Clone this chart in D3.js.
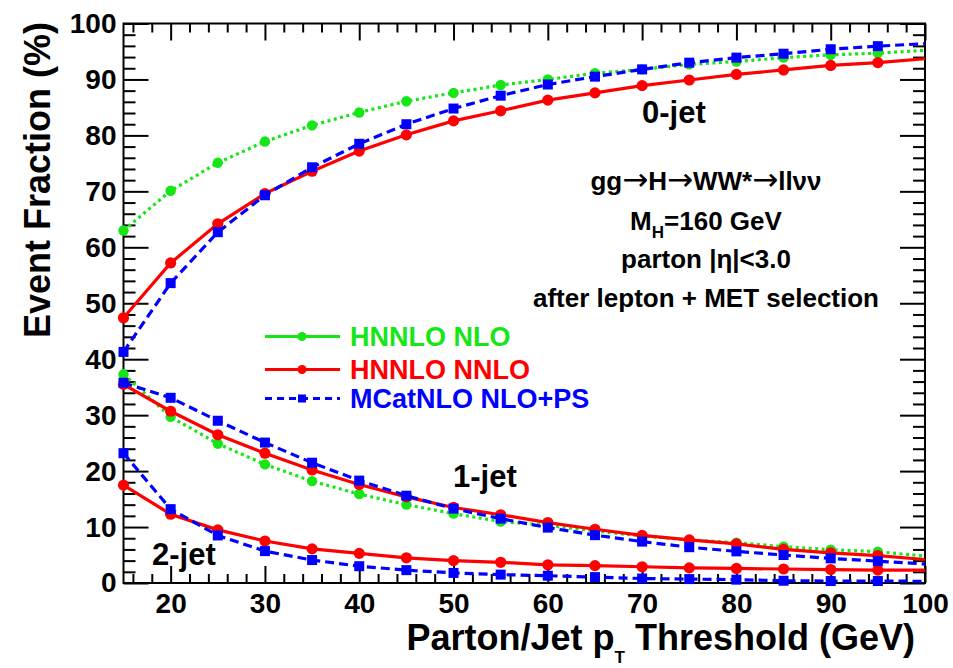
<!DOCTYPE html>
<html>
<head>
<meta charset="utf-8">
<script src="https://cdn.jsdelivr.net/npm/d3@7"></script>
<style>
  html, body { margin: 0; padding: 0; background: #fff; }
  svg { display: block; font-family: "Liberation Sans", Arial, Helvetica, sans-serif; font-weight: bold; }
  .axis text { font-size: 28px; font-family: "Liberation Sans", Arial, sans-serif; font-weight: bold; fill: #000; }
  .axis line { stroke: #000; stroke-width: 2; }
  .axis .domain { display: none; }
  .arrow { font-family: "DejaVu Sans", sans-serif; font-weight: normal; }
</style>
</head>
<body>
<svg id="chart" width="953" height="668"></svg>
<script>
// jet-bin event fractions vs pT threshold, three calculations

const thresholds = [15, 20, 25, 30, 35, 40, 45, 50, 55, 60, 65, 70, 75, 80, 85, 90, 95, 100];

// 0-jet
const nlo0  = [63.0, 70.1, 75.1, 78.9, 81.8, 84.1, 86.1, 87.6, 89.0, 90.0, 91.1, 91.8, 92.7, 93.2, 93.9, 94.4, 94.7, 95.2];
const nnlo0 = [47.4, 57.2, 64.2, 69.6, 73.6, 77.2, 80.1, 82.6, 84.4, 86.3, 87.6, 88.9, 89.9, 90.9, 91.7, 92.5, 93.0, 93.7];
const mc0   = [41.3, 53.6, 62.7, 69.3, 74.3, 78.5, 82.0, 84.8, 87.1, 89.1, 90.5, 91.8, 93.0, 93.9, 94.6, 95.4, 95.95, 96.4];
// 1-jet
const nlo1  = [37.3, 29.7, 24.9, 21.2, 18.2, 15.9, 14.0, 12.4, 11.0, 10.3, 9.3, 8.4, 7.7, 7.2, 6.5, 5.95, 5.6, 4.8];
const nnlo1 = [35.5, 30.7, 26.5, 23.2, 20.2, 17.6, 15.4, 13.5, 12.2, 10.8, 9.6, 8.5, 7.7, 7.0, 6.0, 5.4, 4.9, 4.2];
const mc1   = [35.8, 33.1, 29.0, 25.1, 21.5, 18.3, 15.6, 13.3, 11.5, 9.9, 8.55, 7.4, 6.4, 5.65, 5.0, 4.4, 3.9, 3.4];
// 2-jet
const nnlo2 = [17.5, 12.3, 9.5, 7.5, 6.1, 5.3, 4.5, 4.0, 3.7, 3.25, 3.1, 2.9, 2.7, 2.6, 2.5, 2.4, 2.3, 2.3];
const mc2   = [23.2, 13.2, 8.5, 5.7, 4.1, 3.0, 2.3, 1.8, 1.5, 1.3, 1.05, 0.8, 0.7, 0.6, 0.4, 0.35, 0.35, 0.3];

const xTicks = [20, 30, 40, 50, 60, 70, 80, 90, 100];
const yTicks = [0, 10, 20, 30, 40, 50, 60, 70, 80, 90, 100];

const GREEN = '#16e616';
const RED = '#ff0000';
const BLUE = '#0000ff';

const styles = {
  nlo:  { color: GREEN, dash: '3,3.5', marker: 'circle', r: 5.2, label: 'HNNLO NLO' },
  nnlo: { color: RED, dash: null, marker: 'circle', r: 5.6, label: 'HNNLO NNLO' },
  mc:   { color: BLUE, dash: '9,5', marker: 'square', r: 5, label: 'MCatNLO NLO+PS' },
};

// draw order: green under red under blue
const series = [
  { key: 'nlo', values: nlo0 }, { key: 'nlo', values: nlo1 },
  { key: 'nnlo', values: nnlo0 }, { key: 'nnlo', values: nnlo1 }, { key: 'nnlo', values: nnlo2 },
  { key: 'mc', values: mc0 }, { key: 'mc', values: mc1 }, { key: 'mc', values: mc2 },
];

const margin = { top: 23.5, right: 28, bottom: 85, left: 123.5 };
const svg = d3.select('#chart');
const width = +svg.attr('width') - margin.left - margin.right;
const height = +svg.attr('height') - margin.top - margin.bottom;

const x = d3.scaleLinear().domain([15, 100]).range([0, width]);
const y = d3.scaleLinear().domain([0, 100]).range([height, 0]);

const g = svg.append('g').attr('transform', `translate(${margin.left},${margin.top})`);

g.append('defs').append('clipPath').attr('id', 'plot-clip')
  .append('rect').attr('width', width).attr('height', height);

// minor ticks (every 2 units), all four sides
const xMinor = d3.range(16, 100, 2).filter(v => v % 10 !== 0);
const yMinor = d3.range(2, 100, 2).filter(v => v % 10 !== 0);

g.append('g').attr('class', 'axis').attr('transform', `translate(0,${height})`)
  .call(d3.axisBottom(x).tickValues(xMinor).tickSize(-9).tickSizeOuter(0).tickFormat(''));
g.append('g').attr('class', 'axis')
  .call(d3.axisTop(x).tickValues(xMinor).tickSize(-9).tickSizeOuter(0).tickFormat(''));
g.append('g').attr('class', 'axis')
  .call(d3.axisLeft(y).tickValues(yMinor).tickSize(-12).tickSizeOuter(0).tickFormat(''));
g.append('g').attr('class', 'axis').attr('transform', `translate(${width},0)`)
  .call(d3.axisRight(y).tickValues(yMinor).tickSize(-12).tickSizeOuter(0).tickFormat(''));

// major ticks + labels
g.append('g').attr('class', 'axis').attr('transform', `translate(0,${height})`)
  .call(d3.axisBottom(x).tickValues(xTicks).tickSize(-17).tickSizeOuter(0).tickPadding(10).tickFormat(d3.format('d')));
g.append('g').attr('class', 'axis')
  .call(d3.axisTop(x).tickValues(xTicks).tickSize(-17).tickSizeOuter(0).tickFormat(''));
g.append('g').attr('class', 'axis')
  .call(d3.axisLeft(y).tickValues(yTicks).tickSize(-25).tickSizeOuter(0).tickPadding(7).tickFormat(d3.format('d')));
g.append('g').attr('class', 'axis').attr('transform', `translate(${width},0)`)
  .call(d3.axisRight(y).tickValues(yTicks).tickSize(-25).tickSizeOuter(0).tickFormat(''));

g.append('rect')
  .attr('width', width).attr('height', height)
  .attr('fill', 'none').attr('stroke', '#000').attr('stroke-width', 2);

// series lines
const line = d3.line().x(d => x(d.x)).y(d => y(d.y));
const plotLayer = g.append('g');

series.forEach(s => {
  const st = styles[s.key];
  const pts = thresholds.map((t, i) => ({ x: t, y: s.values[i] }));
  plotLayer.append('path')
    .datum(pts)
    .attr('clip-path', 'url(#plot-clip)')
    .attr('fill', 'none')
    .attr('stroke', st.color)
    .attr('stroke-width', 3.2)
    .attr('stroke-dasharray', st.dash)
    .attr('d', line);

  const shown = pts.filter(p => p.x < 100);
  if (st.marker === 'circle') {
    plotLayer.selectAll(null).data(shown).join('circle')
      .attr('cx', d => x(d.x)).attr('cy', d => y(d.y))
      .attr('r', st.r).attr('fill', st.color);
  } else {
    plotLayer.selectAll(null).data(shown).join('rect')
      .attr('x', d => x(d.x) - st.r).attr('y', d => y(d.y) - st.r)
      .attr('width', st.r * 2).attr('height', st.r * 2).attr('fill', st.color);
  }
});

// legend
const legendRows = ['nlo', 'nnlo', 'mc'];
const legendY = [336.5, 369.5, 398.5];
const legend = svg.append('g');
legendRows.forEach((key, i) => {
  const st = styles[key];
  const row = legend.append('g').attr('transform', `translate(0,${legendY[i]})`);
  row.append('line')
    .attr('x1', 265).attr('x2', 340).attr('y1', 0).attr('y2', 0)
    .attr('stroke', st.color).attr('stroke-width', 3.2)
    .attr('stroke-dasharray', key === 'mc' ? '7,5' : null);
  if (st.marker === 'circle') {
    row.append('circle').attr('cx', 302).attr('cy', 0).attr('r', 4.5).attr('fill', st.color);
  } else {
    row.append('rect').attr('x', 298).attr('y', -4).attr('width', 8).attr('height', 8).attr('fill', st.color);
  }
  row.append('text')
    .attr('x', 350).attr('y', 0).attr('dy', '0.36em')
    .attr('font-size', 27).attr('fill', st.color)
    .text(st.label);
});

// annotations
const note = (txt, xPos, yPos, size, anchor) =>
  svg.append('text').attr('x', xPos).attr('y', yPos)
    .attr('font-size', size).attr('text-anchor', anchor || 'start').attr('fill', '#000').text(txt);

note('0-jet', 642, 123, 31);
note('1-jet', 453, 487, 31);
note('2-jet', 152, 565, 31);

// process line, with wide arrows
const proc = svg.append('text').attr('x', 706).attr('y', 190).attr('font-size', 26)
  .attr('text-anchor', 'middle').attr('fill', '#000');
['gg', '\u2192', 'H', '\u2192', 'WW*', '\u2192', 'll\u03bd\u03bd'].forEach(part => {
  const ts = proc.append('tspan').text(part);
  if (part === '\u2192') ts.attr('class', 'arrow').attr('font-size', 31);
});

const mh = svg.append('text').attr('x', 706).attr('y', 230).attr('font-size', 26)
  .attr('text-anchor', 'middle').attr('fill', '#000');
mh.append('tspan').text('M');
mh.append('tspan').attr('font-size', 17).attr('dy', 8).text('H');
mh.append('tspan').attr('dy', -8).text('=160 GeV');
note('parton |\u03b7|<3.0', 706, 268, 26, 'middle');
note('after lepton + MET selection', 706, 306.5, 26, 'middle');

// axis titles
const xt = svg.append('text').attr('x', 915).attr('y', 650).attr('font-size', 36)
  .attr('text-anchor', 'end').attr('fill', '#000');
xt.append('tspan').text('Parton/Jet p');
xt.append('tspan').attr('font-size', 17).attr('dy', 13).text('T');
xt.append('tspan').attr('dy', -13).text(' Threshold (GeV)');

svg.append('text')
  .attr('transform', 'rotate(-90)')
  .attr('x', -22).attr('y', 50)
  .attr('font-size', 36).attr('text-anchor', 'end').attr('fill', '#000')
  .text('Event Fraction (%)');
</script>
</body>
</html>
